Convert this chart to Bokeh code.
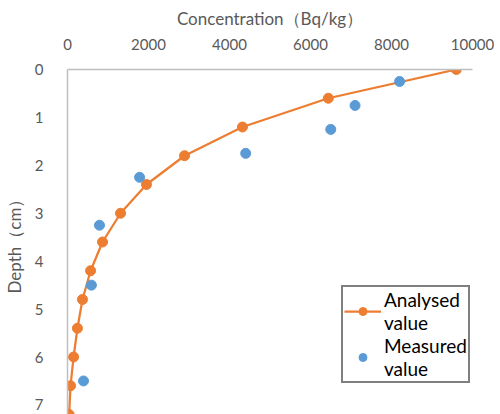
from bokeh.plotting import figure
from bokeh.models import Range1d, Legend, LegendItem, FixedTicker
from bokeh.embed import file_html
from bokeh.resources import INLINE

# Analysed value (smooth model curve)
analysed_depth = [0.0, 0.6, 1.2, 1.8, 2.4, 3.0, 3.6, 4.2, 4.8, 5.4, 6.0, 6.6, 7.2]
analysed_conc = [9600, 6440, 4320, 2890, 1950, 1310, 865, 570, 370, 245, 150, 75, 40]

# Measured value
measured_depth = [0.25, 0.75, 1.25, 1.75, 2.25, 3.25, 4.5, 6.5]
measured_conc = [8200, 7100, 6500, 4400, 1780, 790, 590, 395]

x_ticks = [0, 2000, 4000, 6000, 8000, 10000]
y_ticks = [0, 1, 2, 3, 4, 5, 6, 7]

FONT = "Lato"
GRAY = "#595959"
ORANGE = "#ED7D31"
BLUE = "#5B9BD5"

p = figure(frame_width=405, frame_height=345, output_backend="svg",
           toolbar_location=None, x_axis_location="above",
           x_range=Range1d(0, 10000), y_range=Range1d(7.2, 0),
           min_border_left=66, min_border_top=69, min_border_right=29,
           min_border_bottom=0)
p.outline_line_color = None
p.grid.visible = False
p.background_fill_color = "white"
p.border_fill_color = "white"

for ax in (p.xaxis[0], p.yaxis[0]):
    ax.axis_line_color = "#BFBFBF"
    ax.axis_line_width = 1.5
    ax.major_tick_line_color = None
    ax.minor_tick_line_color = None
    ax.major_label_text_color = GRAY
    ax.major_label_text_font = FONT
    ax.major_label_text_font_size = "15px"
    ax.axis_label_text_color = GRAY
    ax.axis_label_text_font = FONT
    ax.axis_label_text_font_size = "17px"
    ax.axis_label_text_font_style = "normal"

p.xaxis.ticker = FixedTicker(ticks=x_ticks)
p.yaxis.ticker = FixedTicker(ticks=y_ticks)
p.xaxis.axis_label = "Concentration（Bq/kg）"
p.yaxis.axis_label = "Depth（cm）"
p.xaxis.major_label_standoff = 14
p.xaxis.axis_label_standoff = 7
p.yaxis.major_label_standoff = 18
p.yaxis.axis_label_standoff = 7

l1 = p.line(analysed_conc, analysed_depth, line_color=ORANGE, line_width=2.25)
s1 = p.scatter(analysed_conc, analysed_depth, size=10, fill_color=ORANGE, line_color=ORANGE)
s2 = p.scatter(measured_conc, measured_depth, size=10, fill_color=BLUE, line_color=BLUE)

legend = Legend(items=[LegendItem(label="Analysed\nvalue", renderers=[l1, s1]),
                       LegendItem(label="Measured\nvalue", renderers=[s2])],
                location=(274, 31))
legend.border_line_color = "black"
legend.border_line_width = 2
legend.background_fill_color = "white"
legend.background_fill_alpha = 1
legend.label_text_font = FONT
legend.label_text_font_size = "19px"
legend.label_text_color = "black"
legend.label_text_line_height = 1.25
legend.padding = 1
legend.margin = 0
legend.spacing = 0
legend.glyph_width = 37
legend.label_standoff = 3
p.add_layout(legend, "center")

open("out.html", "w").write(file_html(p, INLINE))
